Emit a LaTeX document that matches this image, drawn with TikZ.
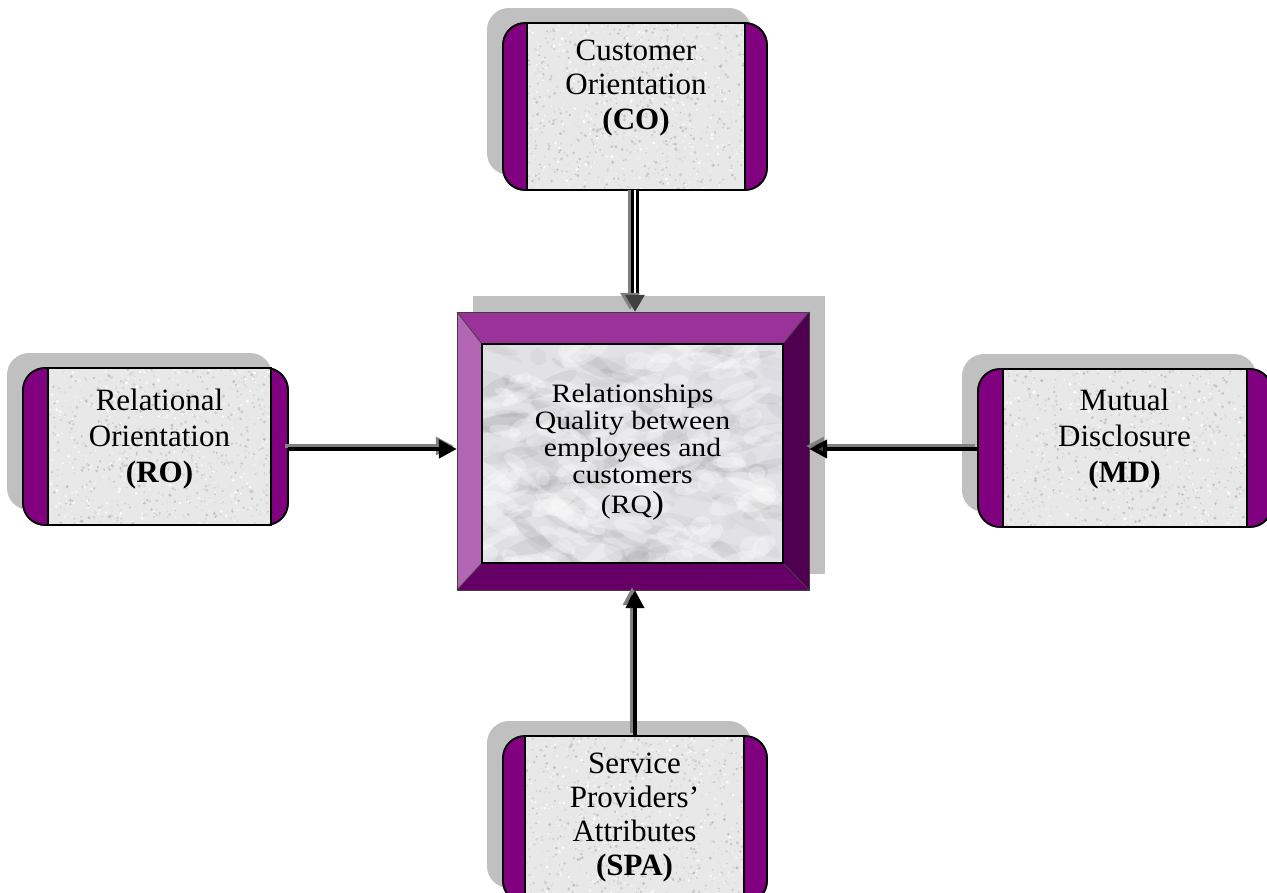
\documentclass[tikz,border=0pt]{standalone}
\usepackage{fontspec}
\setmainfont{Liberation Serif}
\newfontfamily\rqfont{Liberation Serif}[FakeStretch=1.12]
\usetikzlibrary{arrows.meta,fit}
\definecolor{sidepurple}{RGB}{128,0,128}
\definecolor{shadowgrey}{RGB}{192,192,192}
\definecolor{granite}{RGB}{232,232,232}
\definecolor{marble}{RGB}{226,226,230}
\definecolor{bevtop}{RGB}{153,51,153}
\definecolor{bevleft}{RGB}{179,102,179}
\definecolor{bevright}{RGB}{80,0,80}
\definecolor{bevbot}{RGB}{102,0,102}
\definecolor{headgrey}{RGB}{64,64,64}
\definecolor{arrowshade}{RGB}{128,128,128}

\tikzset{
  sidebox/.style={draw=black, line width=1.6pt, fill=sidepurple, rounded corners=22pt},
  sideshadow/.style={fill=shadowgrey, rounded corners=22pt},
  panelline/.style={draw=black, line width=1.6pt},
  hitbox/.style={inner sep=0pt, draw=none},
  cotextstyle/.style={align=center, inner sep=0pt, font=\fontsize{31}{34.5}\selectfont},
  boxtext/.style={align=center, inner sep=0pt, font=\fontsize{31}{36}\selectfont},
  spatext/.style={align=center, inner sep=0pt, font=\fontsize{31}{34}\selectfont},
  rqtext/.style={align=center, inner sep=0pt, font=\rqfont\fontsize{26.5}{27}\selectfont},
  bevline/.style={draw=black!75, line width=0.8pt},
  flow/.style={line width=4.2pt, draw=black,
    -{Triangle[length=18pt,width=18pt,fill=#1]},
    preaction={draw=arrowshade, line width=3.4pt, transform canvas={shift={(-3pt,3pt)}}}},
  flow/.default=black,
  dblflow/.style={line width=2.8pt, draw=black, double=white, double distance=2pt,
    preaction={draw=arrowshade, line width=4pt, transform canvas={shift={(-5pt,0pt)}}}},
  headonly/.style={line width=3.2pt, draw=headgrey,
    -{Triangle[length=17pt,width=19pt,fill=headgrey]},
    preaction={draw=arrowshade, line width=3.2pt, transform canvas={shift={(-5pt,2pt)}}}}
}

% speckled granite texture inside a rectangle
\newcommand\speckle[5]{%
  \begin{scope}
    \clip (#1,#2) rectangle (#3,#4);
    \foreach \i in {1,...,#5}{%
      \pgfmathsetmacro\px{#1+rnd*(#3-#1)}%
      \pgfmathsetmacro\py{#2+rnd*(#4-#2)}%
      \pgfmathsetmacro\pr{0.6+1.1*rnd}%
      \pgfmathtruncatemacro\pg{26*rnd}%
      \fill[black!\pg!white] (\px,\py) circle[radius=\pr pt];
    }
  \end{scope}}

% side box: name, x1, y1, x2, y2, left band, right band
\newcommand\mkbox[7]{%
  \fill[sideshadow] (#2-16,#3-15) rectangle (#4-16,#5-15);
  \draw[sidebox] (#2,#3) rectangle (#4,#5);
  \fill[granite] (#2+#6,#3) rectangle (#4-#7,#5);
  \speckle{#2+#6}{#3}{#4-#7}{#5}{1400}
  \draw[panelline] (#2+#6,#3) rectangle (#4-#7,#5);
  \draw[sidebox, fill=none] (#2,#3) rectangle (#4,#5);
  \node[hitbox, fit={(#2,#3) (#4,#5)}] (#1) {};
}

\begin{document}
\begin{tikzpicture}[x=1pt, y=-1pt]
\pgfmathsetseed{7}
\useasboundingbox (0,0) rectangle (1267,892);
\fill[white] (0,0) rectangle (1267,892);

\begin{scope}
\clip (0,0) rectangle (1267,892);

% ---- side boxes
\mkbox{co}{503}{23}{767}{190}{24}{22}
\mkbox{ro}{23}{368}{288}{525}{25}{17}
\mkbox{md}{978}{369}{1272}{527}{25}{25}
\mkbox{spa}{503}{736}{767}{903}{22}{23}

% ---- central bevelled box
\fill[shadowgrey] (473,296) rectangle (825,574);
\fill[bevtop]   (457,312) -- (809,312) -- (783,344) -- (482,344) -- cycle;
\fill[bevleft]  (457,312) -- (482,344) -- (482,563) -- (457,590) -- cycle;
\fill[bevright] (809,312) -- (809,590) -- (783,563) -- (783,344) -- cycle;
\fill[bevbot]   (457,590) -- (809,590) -- (783,563) -- (482,563) -- cycle;
\fill[marble] (482,344) rectangle (783,563);
\begin{scope}
  \clip (482,344) rectangle (783,563);
  \foreach \i in {1,...,200}{%
    \pgfmathsetmacro\px{482+rnd*301}%
    \pgfmathsetmacro\py{344+rnd*219}%
    \pgfmathsetmacro\rx{6+26*rnd}%
    \pgfmathsetmacro\ry{2+7*rnd}%
    \pgfmathsetmacro\ang{-40+80*rnd}%
    \pgfmathtruncatemacro\pg{20+40*rnd}%
    \fill[black!\pg!white, opacity=0.10, rotate around={\ang:(\px,\py)}]
      (\px,\py) ellipse[x radius=\rx pt, y radius=\ry pt];
  }
  \foreach \i in {1,...,120}{%
    \pgfmathsetmacro\px{482+rnd*301}%
    \pgfmathsetmacro\py{344+rnd*219}%
    \pgfmathsetmacro\rx{6+22*rnd}%
    \pgfmathsetmacro\ry{3+8*rnd}%
    \pgfmathsetmacro\ang{-40+80*rnd}%
    \fill[white, opacity=0.30, rotate around={\ang:(\px,\py)}]
      (\px,\py) ellipse[x radius=\rx pt, y radius=\ry pt];
  }
\end{scope}
\draw[bevline] (457,312) rectangle (809,590);
\draw[bevline] (457,312) -- (482,344) (809,312) -- (783,344)
               (809,590) -- (783,563) (457,590) -- (482,563);
\draw[black, line width=1.6pt] (482,344) rectangle (783,563);
\node[hitbox, fit={(457,312) (809,590)}] (rq) {};

% ---- texts
\node[cotextstyle] (cotext) at (636,88) {Customer\\Orientation\\\textbf{(CO)}};
\node[boxtext] (rotext) at (159.5,439) {Relational\\Orientation\\\textbf{(RO)}};
\node[boxtext] (mdtext) at (1124.5,439) {Mutual\\Disclosure\\\textbf{(MD)}};
\node[spatext] (spatext) at (634.5,818) {Service\\Providers’\\Attributes\\\textbf{(SPA)}};
\node[rqtext] (rqtext) at (632.5,452) {Relationships\\Quality between\\employees and\\customers\\[3pt](RQ{\fontsize{32}{32}\selectfont)}};

% ---- connectors
\draw[dblflow] (co.south) -- ([yshift=16pt]co.south |- rq.north);
\draw[headonly] ([yshift=17pt]co.south |- rq.north) -- (co.south |- rq.north);
\draw[flow] ([yshift=-2.5pt]ro.east) -- ([yshift=-2.5pt]ro.east -| rq.west);
\draw[flow=headgrey] ([yshift=-1pt]md.west) -- ([yshift=-1pt]md.west -| rq.east);
\draw[flow] (spa.north) -- (spa.north |- rq.south);
\end{scope}
\end{tikzpicture}
\end{document}
